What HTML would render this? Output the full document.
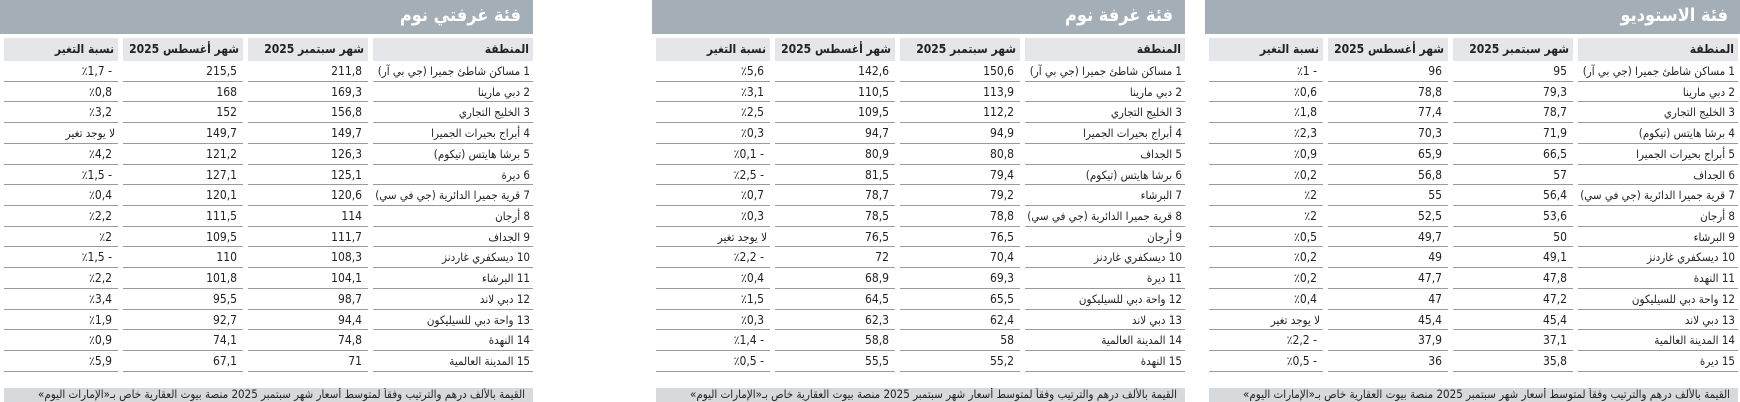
<!DOCTYPE html>
<html><head><meta charset="utf-8">
<style>
*{margin:0;padding:0;box-sizing:border-box}
body{width:1740px;height:400px;background:#fff;position:relative;overflow:hidden;font-family:"DejaVu Sans Condensed","DejaVu Sans","Liberation Sans",sans-serif;color:#222}
.t{position:absolute;top:0;width:533px;height:400px}
.bar{position:absolute;left:0;top:0;width:100%;height:34px;background:#a3aeb6;color:#fff;font-weight:bold;font-size:18px;direction:rtl;text-align:right;padding:5px 12px 0 0}
.g{position:absolute;left:4px;top:38px;display:grid;grid-template-columns:114px 120px 120px 160px;column-gap:5px;grid-template-rows:23px repeat(15,20.73px)}
.g div{direction:rtl;text-align:right;font-size:11.5px;line-height:19px;padding:1px 3px 0 0;border-bottom:1px solid #9a9a9a;white-space:nowrap;overflow:hidden}
.g .h{background:#e5e6e9;font-weight:bold;font-size:12px;line-height:22px;border-bottom:none;padding-top:0;padding-right:4px}
.g .n{direction:ltr;text-align:right;padding-right:6px;font-size:12px}
.f{position:absolute;left:4px;top:388px;width:529px;height:14px;background:#d7dadd;direction:rtl;text-align:right;font-size:11.5px;line-height:13px;padding-right:8px;white-space:nowrap;overflow:hidden}
</style></head><body>

<div class="t" style="left:0">
<div class="bar">فئة غرفتي نوم</div>
<div class="g">
<div class="h">نسبة التغير</div><div class="h">شهر أغسطس 2025</div><div class="h">شهر سبتمبر 2025</div><div class="h">المنطقة</div>
<div class="n">٪1,7 -</div><div class="n">215,5</div><div class="n">211,8</div><div>1 مساكن شاطئ جميرا (جي بي آر)</div>
<div class="n">٪0,8</div><div class="n">168</div><div class="n">169,3</div><div>2 دبي مارينا</div>
<div class="n">٪3,2</div><div class="n">152</div><div class="n">156,8</div><div>3 الخليج التجاري</div>
<div>لا يوجد تغير</div><div class="n">149,7</div><div class="n">149,7</div><div>4 أبراج بحيرات الجميرا</div>
<div class="n">٪4,2</div><div class="n">121,2</div><div class="n">126,3</div><div>5 برشا هايتس (تيكوم)</div>
<div class="n">٪1,5 -</div><div class="n">127,1</div><div class="n">125,1</div><div>6 ديرة</div>
<div class="n">٪0,4</div><div class="n">120,1</div><div class="n">120,6</div><div>7 قرية جميرا الدائرية (جي في سي)</div>
<div class="n">٪2,2</div><div class="n">111,5</div><div class="n">114</div><div>8 أرجان</div>
<div class="n">٪2</div><div class="n">109,5</div><div class="n">111,7</div><div>9 الجداف</div>
<div class="n">٪1,5 -</div><div class="n">110</div><div class="n">108,3</div><div>10 ديسكفري غاردنز</div>
<div class="n">٪2,2</div><div class="n">101,8</div><div class="n">104,1</div><div>11 البرشاء</div>
<div class="n">٪3,4</div><div class="n">95,5</div><div class="n">98,7</div><div>12 دبي لاند</div>
<div class="n">٪1,9</div><div class="n">92,7</div><div class="n">94,4</div><div>13 واحة دبي للسيليكون</div>
<div class="n">٪0,9</div><div class="n">74,1</div><div class="n">74,8</div><div>14 النهدة</div>
<div class="n">٪5,9</div><div class="n">67,1</div><div class="n">71</div><div>15 المدينة العالمية</div>
</div>
<div class="f">القيمة بالألف درهم والترتيب وفقاً لمتوسط أسعار شهر سبتمبر 2025 منصة بيوت العقارية خاص بـ«الإمارات اليوم»</div>
</div>

<div class="t" style="left:652px">
<div class="bar">فئة غرفة نوم</div>
<div class="g">
<div class="h">نسبة التغير</div><div class="h">شهر أغسطس 2025</div><div class="h">شهر سبتمبر 2025</div><div class="h">المنطقة</div>
<div class="n">٪5,6</div><div class="n">142,6</div><div class="n">150,6</div><div>1 مساكن شاطئ جميرا (جي بي آر)</div>
<div class="n">٪3,1</div><div class="n">110,5</div><div class="n">113,9</div><div>2 دبي مارينا</div>
<div class="n">٪2,5</div><div class="n">109,5</div><div class="n">112,2</div><div>3 الخليج التجاري</div>
<div class="n">٪0,3</div><div class="n">94,7</div><div class="n">94,9</div><div>4 أبراج بحيرات الجميرا</div>
<div class="n">٪0,1 -</div><div class="n">80,9</div><div class="n">80,8</div><div>5 الجداف</div>
<div class="n">٪2,5 -</div><div class="n">81,5</div><div class="n">79,4</div><div>6 برشا هايتس (تيكوم)</div>
<div class="n">٪0,7</div><div class="n">78,7</div><div class="n">79,2</div><div>7 البرشاء</div>
<div class="n">٪0,3</div><div class="n">78,5</div><div class="n">78,8</div><div>8 قرية جميرا الدائرية (جي في سي)</div>
<div>لا يوجد تغير</div><div class="n">76,5</div><div class="n">76,5</div><div>9 أرجان</div>
<div class="n">٪2,2 -</div><div class="n">72</div><div class="n">70,4</div><div>10 ديسكفري غاردنز</div>
<div class="n">٪0,4</div><div class="n">68,9</div><div class="n">69,3</div><div>11 ديرة</div>
<div class="n">٪1,5</div><div class="n">64,5</div><div class="n">65,5</div><div>12 واحة دبي للسيليكون</div>
<div class="n">٪0,3</div><div class="n">62,3</div><div class="n">62,4</div><div>13 دبي لاند</div>
<div class="n">٪1,4 -</div><div class="n">58,8</div><div class="n">58</div><div>14 المدينة العالمية</div>
<div class="n">٪0,5 -</div><div class="n">55,5</div><div class="n">55,2</div><div>15 النهدة</div>
</div>
<div class="f">القيمة بالألف درهم والترتيب وفقاً لمتوسط أسعار شهر سبتمبر 2025 منصة بيوت العقارية خاص بـ«الإمارات اليوم»</div>
</div>

<div class="t" style="left:1205px;width:535px">
<div class="bar">فئة الاستوديو</div>
<div class="g">
<div class="h">نسبة التغير</div><div class="h">شهر أغسطس 2025</div><div class="h">شهر سبتمبر 2025</div><div class="h">المنطقة</div>
<div class="n">٪1 -</div><div class="n">96</div><div class="n">95</div><div>1 مساكن شاطئ جميرا (جي بي آر)</div>
<div class="n">٪0,6</div><div class="n">78,8</div><div class="n">79,3</div><div>2 دبي مارينا</div>
<div class="n">٪1,8</div><div class="n">77,4</div><div class="n">78,7</div><div>3 الخليج التجاري</div>
<div class="n">٪2,3</div><div class="n">70,3</div><div class="n">71,9</div><div>4 برشا هايتس (تيكوم)</div>
<div class="n">٪0,9</div><div class="n">65,9</div><div class="n">66,5</div><div>5 أبراج بحيرات الجميرا</div>
<div class="n">٪0,2</div><div class="n">56,8</div><div class="n">57</div><div>6 الجداف</div>
<div class="n">٪2</div><div class="n">55</div><div class="n">56,4</div><div>7 قرية جميرا الدائرية (جي في سي)</div>
<div class="n">٪2</div><div class="n">52,5</div><div class="n">53,6</div><div>8 أرجان</div>
<div class="n">٪0,5</div><div class="n">49,7</div><div class="n">50</div><div>9 البرشاء</div>
<div class="n">٪0,2</div><div class="n">49</div><div class="n">49,1</div><div>10 ديسكفري غاردنز</div>
<div class="n">٪0,2</div><div class="n">47,7</div><div class="n">47,8</div><div>11 النهدة</div>
<div class="n">٪0,4</div><div class="n">47</div><div class="n">47,2</div><div>12 واحة دبي للسيليكون</div>
<div>لا يوجد تغير</div><div class="n">45,4</div><div class="n">45,4</div><div>13 دبي لاند</div>
<div class="n">٪2,2 -</div><div class="n">37,9</div><div class="n">37,1</div><div>14 المدينة العالمية</div>
<div class="n">٪0,5 -</div><div class="n">36</div><div class="n">35,8</div><div>15 ديرة</div>
</div>
<div class="f">القيمة بالألف درهم والترتيب وفقاً لمتوسط أسعار شهر سبتمبر 2025 منصة بيوت العقارية خاص بـ«الإمارات اليوم»</div>
</div>

</body></html>
